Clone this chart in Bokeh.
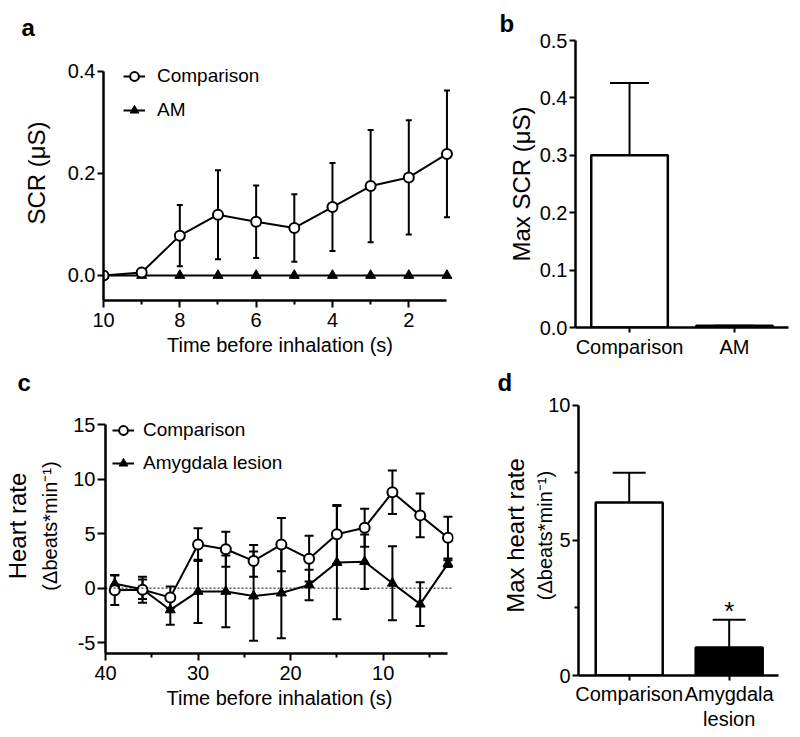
import math
from bokeh.plotting import figure
from bokeh.models import (Range1d, FactorRange, FixedTicker, PrintfTickFormatter, Whisker,
                          TeeHead, ColumnDataSource, Legend, LegendItem, Span, LinearAxis)
from bokeh.layouts import column, row
from bokeh.embed import file_html
from bokeh.resources import INLINE
from bokeh.core.properties import value

FONT = "Liberation Sans"

# ---------------- data ----------------
# panel a: SCR time course
time_a = [10, 9, 8, 7, 6, 5, 4, 3, 2, 1]
scr_comparison = [0.0, 0.006, 0.078, 0.119, 0.105, 0.093, 0.134, 0.175, 0.192, 0.238]
scr_comparison_sem = [0.0, 0.0, 0.060, 0.087, 0.071, 0.066, 0.086, 0.110, 0.112, 0.124]
scr_am = [0.0, 0.0, 0.0, 0.0, 0.0, 0.0, 0.0, 0.0, 0.0, 0.0]

# panel b: max SCR
groups_b = ["Comparison", "AM"]
max_scr = [0.30, 0.003]
max_scr_sem = [0.126, 0.0]

# panel c: heart rate time course
time_c = [39, 36, 33, 30, 27, 24, 21, 18, 15, 12, 9, 6, 3]
hr_comparison = [-0.2, -0.15, -0.85, 4.0, 3.57, 2.5, 4.0, 2.7, 4.94, 5.55, 8.8, 6.68, 4.63]
hr_comparison_sem = [1.35, 1.2, 1.0, 1.5, 1.6, 1.45, 2.45, 2.1, 2.7, 1.75, 2.0, 2.0, 1.92]
hr_amygdala = [0.4, -0.1, -2.0, -0.3, -0.3, -0.73, -0.45, 0.3, 2.35, 2.43, 0.45, -1.47, 2.25]
hr_amygdala_sem = [0.8, 0.9, 1.35, 2.9, 3.3, 4.1, 4.15, 1.4, 5.2, 2.5, 3.4, 2.0, 0.3]

# panel d: max heart rate
groups_d = ["Comparison", "Amygdala lesion"]
max_hr = [6.40, 1.04]
max_hr_sem = [1.10, 1.02]

# tick labels
ticks_a_x = [10, 8, 6, 4, 2]
minor_a_x = [9, 7, 5, 3]
ticks_a_y = [0.0, 0.2, 0.4]
ticks_b_y = [0.0, 0.1, 0.2, 0.3, 0.4, 0.5]
ticks_c_x = [40, 30, 20, 10]
minor_c_x = [35, 25, 15, 5]
ticks_c_y = [-5, 0, 5, 10, 15]
ticks_d_y = [0, 5, 10]
minor_d_y = [2.5, 7.5]

# category positions for panel d (one unit per group) and its two-line labels
pos_d = [i + 0.5 for i in range(len(groups_d))]
line1_d = {p: g.split(" ")[0] for p, g in zip(pos_d, groups_d)}
line2_d = {p: " ".join(g.split(" ")[1:]) for p, g in zip(pos_d, groups_d)}


def base_fig(**kw):
    p = figure(output_backend="svg", toolbar_location=None, **kw)
    p.outline_line_color = None
    p.xgrid.visible = False
    p.ygrid.visible = False
    p.background_fill_color = "white"
    p.border_fill_color = "white"
    try:
        p.frame_align = False
    except Exception:
        pass
    return p


def style_axis(ax, tick_size="20px"):
    ax.axis_line_width = 2.5
    ax.axis_line_color = "black"
    ax.major_tick_line_width = 2
    ax.major_tick_line_color = "black"
    ax.major_tick_out = 7
    ax.major_tick_in = 0
    ax.minor_tick_line_width = 2
    ax.minor_tick_line_color = "black"
    ax.minor_tick_out = 4
    ax.minor_tick_in = 0
    ax.major_label_text_font = FONT
    ax.major_label_text_font_size = tick_size
    ax.major_label_text_color = "black"
    ax.axis_label_text_font = FONT
    ax.axis_label_text_font_style = "normal"
    ax.axis_label_text_color = "black"


def blank_axis(**kw):
    ax = LinearAxis(ticker=FixedTicker(ticks=[]), axis_line_color=None,
                    major_tick_line_color=None, minor_tick_line_color=None,
                    major_tick_in=0, major_label_standoff=0,
                    major_label_text_font_size="0px", **kw)
    ax.axis_label_text_font = FONT
    ax.axis_label_text_font_style = "normal"
    ax.axis_label_text_color = "black"
    return ax


def letter(p, txt, offset, standoff):
    p.title.text = txt
    p.title.align = "left"
    p.title.offset = offset
    p.title.standoff = standoff
    p.title.text_font = FONT
    p.title.text_font_size = "24px"
    p.title.text_font_style = "bold"
    p.title.text_color = "black"


def outer_ylabel(p, txt, standoff, bounds):
    ax = blank_axis(major_tick_out=0, axis_label=txt, axis_label_standoff=standoff,
                    bounds=bounds)
    ax.axis_label_text_font_size = "24px"
    p.add_layout(ax, "left")


def make_legend(p, items, loc, standoff, spacing):
    lg = Legend(items=items, location=loc, padding=0, margin=0,
                border_line_color=None, background_fill_alpha=0,
                label_text_font=FONT, label_text_font_size="19px", label_text_color="black",
                glyph_width=22, glyph_height=24, label_height=24, label_standoff=standoff,
                spacing=spacing)
    p.add_layout(lg)


# ---------------- panel a ----------------
pa = base_fig(width=470, height=364, x_range=Range1d(10, 0.75), y_range=Range1d(-0.049, 0.4503),
              min_border_left=103, min_border_right=14, min_border_top=45, min_border_bottom=64)
style_axis(pa.xaxis[0])
style_axis(pa.yaxis[0])
pa.xaxis[0].ticker = FixedTicker(ticks=ticks_a_x, minor_ticks=minor_a_x)
pa.xaxis[0].bounds = (1, 10)
pa.xaxis[0].axis_label = "Time before inhalation (s)"
pa.xaxis[0].axis_label_text_font_size = "20px"
pa.xaxis[0].axis_label_standoff = 4
pa.xaxis[0].major_label_standoff = 5
pa.yaxis[0].ticker = FixedTicker(ticks=ticks_a_y)
pa.yaxis[0].formatter = PrintfTickFormatter(format="%.1f")
pa.yaxis[0].bounds = (-0.049, 0.4)
pa.yaxis[0].axis_label = "SCR (μS)"
pa.yaxis[0].axis_label_text_font_size = "24px"
pa.yaxis[0].axis_label_standoff = 15
pa.yaxis[0].major_label_standoff = 2
pa.yaxis[0].major_tick_out = 6

src_a = ColumnDataSource(dict(
    x=time_a, comp=scr_comparison,
    lo=[v - e for v, e in zip(scr_comparison, scr_comparison_sem)],
    hi=[v + e for v, e in zip(scr_comparison, scr_comparison_sem)],
    am=scr_am))
pa.add_layout(Whisker(source=src_a, base="x", lower="lo", upper="hi", dimension="height",
                      line_width=2, line_color="black",
                      lower_head=TeeHead(size=6, line_width=2, line_color="black"),
                      upper_head=TeeHead(size=6, line_width=2, line_color="black")))
la2 = pa.line("x", "am", source=src_a, line_width=2, line_color="black")
sa2 = pa.scatter("x", "am", source=src_a, marker="triangle", size=10,
                 fill_color="black", line_color="black")
la1 = pa.line("x", "comp", source=src_a, line_width=2, line_color="black")
sa1 = pa.scatter("x", "comp", source=src_a, marker="circle", size=10,
                 fill_color="white", line_color="black", line_width=2)
make_legend(pa, [LegendItem(label="Comparison", renderers=[la1, sa1]),
                 LegendItem(label="AM", renderers=[la2, sa2])], (20, 178), 12, 10)
letter(pa, "a", -82, 9)

# ---------------- panel b ----------------
pb = base_fig(width=328, height=364, x_range=FactorRange(*groups_b, range_padding=0.015),
              y_range=Range1d(0, 0.5),
              min_border_left=105, min_border_right=10, min_border_top=40, min_border_bottom=37)
style_axis(pb.xaxis[0])
style_axis(pb.yaxis[0])
pb.xaxis[0].major_tick_out = 5
pb.xaxis[0].major_label_standoff = 3
pb.yaxis[0].ticker = FixedTicker(ticks=ticks_b_y)
pb.yaxis[0].formatter = PrintfTickFormatter(format="%.1f")
pb.yaxis[0].axis_label = "Max SCR (μS)"
pb.yaxis[0].axis_label_text_font_size = "24px"
pb.yaxis[0].axis_label_standoff = 2
pb.yaxis[0].major_label_standoff = 2
pb.yaxis[0].major_tick_out = 6
src_b = ColumnDataSource(dict(g=groups_b, v=max_scr,
                              hi=[v + e for v, e in zip(max_scr, max_scr_sem)],
                              fill=["white", "black"]))
pb.add_layout(Whisker(source=src_b, base="g", lower="v", upper="hi", dimension="height",
                      line_width=2, line_color="black", lower_head=None,
                      upper_head=TeeHead(size=39, line_width=2, line_color="black")))
pb.vbar(x="g", top="v", width=0.73, source=src_b, fill_color="fill",
        line_color="black", line_width=2.5)
letter(pb, "b", -76, 8)

# ---------------- panel c ----------------
pc = base_fig(width=470, height=371, x_range=Range1d(40, 2.4), y_range=Range1d(-6, 17.41),
              min_border_left=105, min_border_right=17, min_border_top=33, min_border_bottom=82)
style_axis(pc.xaxis[0])
style_axis(pc.yaxis[0])
pc.xaxis[0].ticker = FixedTicker(ticks=ticks_c_x, minor_ticks=minor_c_x)
pc.xaxis[0].bounds = (3, 40)
pc.xaxis[0].axis_label = "Time before inhalation (s)"
pc.xaxis[0].axis_label_text_font_size = "20px"
pc.xaxis[0].axis_label_standoff = 4
pc.xaxis[0].major_label_standoff = 5
pc.yaxis[0].ticker = FixedTicker(ticks=ticks_c_y)
pc.yaxis[0].formatter = PrintfTickFormatter(format="%d")
pc.yaxis[0].bounds = (-6, 15)
pc.yaxis[0].axis_label = "(Δbeats*min⁻¹)"
pc.yaxis[0].axis_label_text_font_size = "20px"
pc.yaxis[0].axis_label_standoff = 9
pc.yaxis[0].major_label_standoff = 2
pc.yaxis[0].major_tick_out = 8
outer_ylabel(pc, "Heart rate", 6, (-6, 15))
pc.add_layout(Span(location=0, dimension="width", line_dash="2 2", line_width=1,
                   line_color="black"))
src_c = ColumnDataSource(dict(
    x=time_c, comp=hr_comparison, amy=hr_amygdala,
    clo=[v - e for v, e in zip(hr_comparison, hr_comparison_sem)],
    chi=[v + e for v, e in zip(hr_comparison, hr_comparison_sem)],
    alo=[v - e for v, e in zip(hr_amygdala, hr_amygdala_sem)],
    ahi=[v + e for v, e in zip(hr_amygdala, hr_amygdala_sem)]))
for lo, hi in (("alo", "ahi"), ("clo", "chi")):
    pc.add_layout(Whisker(source=src_c, base="x", lower=lo, upper=hi, dimension="height",
                          line_width=2, line_color="black",
                          lower_head=TeeHead(size=9, line_width=2, line_color="black"),
                          upper_head=TeeHead(size=9, line_width=2, line_color="black")))
lc2 = pc.line("x", "amy", source=src_c, line_width=2, line_color="black")
sc2 = pc.scatter("x", "amy", source=src_c, marker="triangle", size=10,
                 fill_color="black", line_color="black")
lc1 = pc.line("x", "comp", source=src_c, line_width=2, line_color="black")
sc1 = pc.scatter("x", "comp", source=src_c, marker="circle", size=10,
                 fill_color="white", line_color="black", line_width=2)
make_legend(pc, [LegendItem(label="Comparison", renderers=[lc1, sc1]),
                 LegendItem(label="Amygdala lesion", renderers=[lc2, sc2])], (7, 178), 9, 9)
letter(pc, "c", -88, 5)

# ---------------- panel d ----------------
pd = base_fig(width=328, height=371, x_range=Range1d(-0.007, 1.993), y_range=Range1d(0, 10.36),
              min_border_left=108, min_border_right=20, min_border_top=31, min_border_bottom=60)
style_axis(pd.xaxis[0])
style_axis(pd.yaxis[0])
pd.xaxis[0].ticker = FixedTicker(ticks=pos_d, minor_ticks=[])
pd.xaxis[0].major_tick_out = 5
pd.xaxis[0].major_label_standoff = 2
pd.xaxis[0].major_label_overrides = line1_d
ax2 = blank_axis(major_tick_out=0)
ax2.ticker = FixedTicker(ticks=pos_d, minor_ticks=[])
ax2.major_label_overrides = line2_d
ax2.major_label_text_font = FONT
ax2.major_label_text_font_size = "20px"
ax2.major_label_text_color = "black"
pd.add_layout(ax2, "below")
pd.yaxis[0].ticker = FixedTicker(ticks=ticks_d_y, minor_ticks=minor_d_y)
pd.yaxis[0].formatter = PrintfTickFormatter(format="%d")
pd.yaxis[0].bounds = (0, 10)
pd.yaxis[0].axis_label = "(Δbeats*min⁻¹)"
pd.yaxis[0].axis_label_text_font_size = "20px"
pd.yaxis[0].axis_label_standoff = -11
pd.yaxis[0].major_label_standoff = 2
pd.yaxis[0].major_tick_out = 6
pd.yaxis[0].minor_tick_out = 4
outer_ylabel(pd, "Max heart rate", 3, (0, 10))
src_d = ColumnDataSource(dict(x=pos_d, v=max_hr,
                              hi=[v + e for v, e in zip(max_hr, max_hr_sem)],
                              fill=["white", "black"], star=["", "*"]))
pd.add_layout(Whisker(source=src_d, base="x", lower="v", upper="hi", dimension="height",
                      line_width=2, line_color="black", lower_head=None,
                      upper_head=TeeHead(size=33, line_width=2, line_color="black")))
pd.vbar(x="x", top="v", width=0.67, source=src_d, fill_color="fill",
        line_color="black", line_width=2.5)
pd.text(x="x", y="hi", text="star", source=src_d, text_font=value(FONT),
        text_font_size="26px", text_align="center", text_baseline="alphabetic",
        text_color="black", y_offset=-9)
letter(pd, "d", -81, 0)

layout = row(column(pa, pc), column(pb, pd))
open("out.html", "w").write(file_html(layout, INLINE))
